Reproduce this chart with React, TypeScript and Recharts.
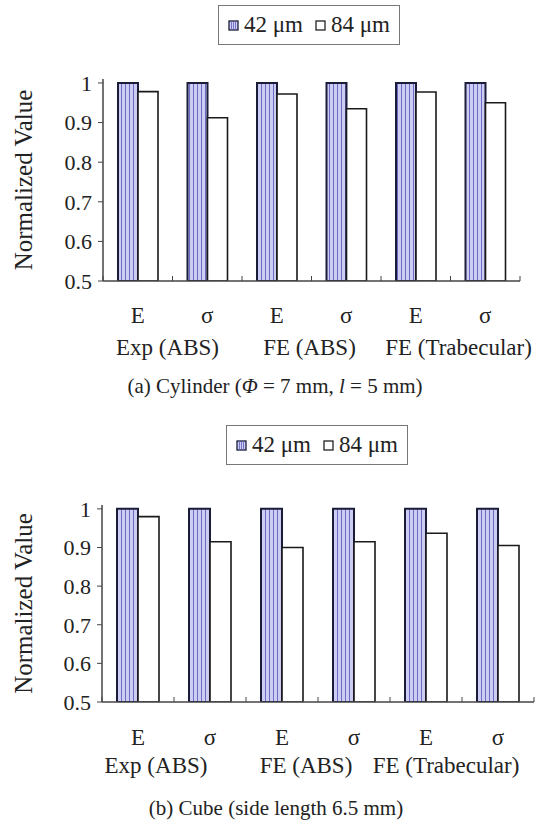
import React from "react";
import { BarChart, Bar, XAxis, YAxis } from "recharts";

const categories = ["E", "σ", "E", "σ", "E", "σ"];
const groups = ["Exp (ABS)", "FE (ABS)", "FE (Trabecular)"];
const seriesNames = ["42 μm", "84 μm"];
const cylinder42 = [1, 1, 1, 1, 1, 1];
const cylinder84 = [0.978, 0.912, 0.972, 0.935, 0.977, 0.95];
const cube42 = [1, 1, 1, 1, 1, 1];
const cube84 = [0.98, 0.915, 0.9, 0.915, 0.937, 0.905];
const yTicks = [0.5, 0.6, 0.7, 0.8, 0.9, 1];

const FONT = '"Liberation Serif", "Times New Roman", serif';
const STRIPE_FILL = "#cdcdf3";
const STRIPE_LINE = "#6c6cc4";
const BAR_EDGE = "#1b1b3a";

function buildRows(fine: number[], coarse: number[]) {
  return categories.map((c, i) => ({
    id: String(i),
    cat: c,
    a: fine[i],
    b: coarse[i],
  }));
}

function makeTick(band: number, groupDx: number[], catDy: number, groupDy: number) {
  return function CatTick(props: any) {
    const { x, y, payload } = props;
    const i = payload.index;
    const left = x - band / 2;
    return (
      <g>
        <line x1={left} y1={y} x2={left} y2={y - 5} stroke="#444" strokeWidth={1} />
        {i === categories.length - 1 && (
          <line x1={x + band / 2} y1={y} x2={x + band / 2} y2={y - 5} stroke="#444" strokeWidth={1} />
        )}
        <text x={x} y={y + catDy} textAnchor="middle" fontSize={23} fontFamily={FONT} fill="#222">
          {categories[i]}
        </text>
        {i % 2 === 0 && (
          <text
            x={x + band / 2 + groupDx[i / 2]}
            y={y + groupDy}
            textAnchor="middle"
            fontSize={23}
            fontFamily={FONT}
            fill="#222"
          >
            {groups[i / 2]}
          </text>
        )}
      </g>
    );
  };
}

function Swatch({ striped }: { striped: boolean }) {
  return (
    <svg width={11} height={11} style={{ marginRight: 5 }}>
      <rect x={1} y={1} width={9} height={9} fill={striped ? STRIPE_FILL : "#fff"} stroke={striped ? BAR_EDGE : "#222"} strokeWidth={1.3} />
      {striped &&
        [3.5, 5.5, 7.5].map((lx) => (
          <line key={lx} x1={lx} y1={1.5} x2={lx} y2={9.5} stroke={STRIPE_LINE} strokeWidth={0.9} />
        ))}
    </svg>
  );
}

function LegendBox({ left, top }: { left: number; top: number }) {
  return (
    <div
      style={{
        position: "absolute",
        left,
        top,
        width: 182,
        height: 40,
        border: "1px solid #777",
        boxSizing: "border-box",
        display: "flex",
        alignItems: "center",
        justifyContent: "center",
        fontFamily: FONT,
        fontSize: 23,
        color: "#222",
        background: "#fff",
      }}
    >
      <Swatch striped />
      <span style={{ marginRight: 12 }}>{seriesNames[0]}</span>
      <Swatch striped={false} />
      <span>{seriesNames[1]}</span>
    </div>
  );
}

interface PanelProps {
  rows: any[];
  top: number;
  height: number;
  plotTop: number;
  plotBottom: number;
  plotLeft: number;
  plotRight: number;
  barSize: number;
  groupDx: number[];
  catDy: number;
  groupDy: number;
  legendLeft: number;
  legendTop: number;
  caption: React.ReactNode;
  captionTop: number;
  captionCenter: number;
  patternId: string;
}

function Panel(p: PanelProps) {
  const width = 540;
  const band = (p.plotRight - p.plotLeft) / categories.length;
  const Tick = makeTick(band, p.groupDx, p.catDy, p.groupDy);
  const axisTitle = (props: any) => {
    const vb = props.viewBox || { y: p.plotTop, height: p.plotBottom - p.plotTop };
    const cx = 23;
    const cy = vb.y + vb.height / 2;
    return (
      <text
        x={cx}
        y={cy}
        transform={`rotate(-90, ${cx}, ${cy})`}
        textAnchor="middle"
        dominantBaseline="central"
        fontSize={25}
        fontFamily={FONT}
        fill="#222"
      >
        Normalized Value
      </text>
    );
  };
  return (
    <div style={{ position: "absolute", left: 0, top: p.top, width, height: p.height }}>
      <BarChart
        width={width}
        height={p.height}
        data={p.rows}
        barGap={0}
        margin={{ top: p.plotTop, right: width - p.plotRight, bottom: 0, left: 0 }}
      >
        <defs>
          <pattern id={p.patternId} width={4} height={10} patternUnits="userSpaceOnUse">
            <rect width={4} height={10} fill={STRIPE_FILL} />
            <line x1={1.5} y1={0} x2={1.5} y2={10} stroke={STRIPE_LINE} strokeWidth={1} />
          </pattern>
        </defs>
        <XAxis
          dataKey="id"
          height={p.height - p.plotBottom}
          axisLine={{ stroke: "#444", strokeWidth: 1.5 }}
          tickLine={false}
          tickSize={0}
          tickMargin={0}
          interval={0}
          tick={<Tick />}
        />
        <XAxis xAxisId="top" dataKey="id" orientation="top" height={0} tick={false} tickLine={false} axisLine={{ stroke: "#9a9a9a", strokeWidth: 1.5 }} />
        <YAxis
          width={p.plotLeft}
          domain={[0.5, 1.01]}
          ticks={yTicks}
          allowDataOverflow
          tickFormatter={(v: number) => String(v)}
          tickSize={5}
          tickMargin={6}
          tickLine={{ stroke: "#444" }}
          axisLine={{ stroke: "#444", strokeWidth: 1.5 }}
          tick={{ fontSize: 22, fontFamily: FONT, fill: "#222" }}
          label={{ content: axisTitle }}
        />
        <YAxis yAxisId="right" orientation="right" width={0} domain={[0.5, 1.01]} tick={false} tickLine={false} axisLine={{ stroke: "#9a9a9a", strokeWidth: 1.5 }} />
        <Bar dataKey="a" name={seriesNames[0]} barSize={p.barSize} fill={`url(#${p.patternId})`} stroke={BAR_EDGE} strokeWidth={2} isAnimationActive={false} />
        <Bar dataKey="b" name={seriesNames[1]} barSize={p.barSize} fill="#fff" stroke="#1a1a1a" strokeWidth={1.6} isAnimationActive={false} />
      </BarChart>
      <LegendBox left={p.legendLeft} top={p.legendTop} />
      <div
        style={{
          position: "absolute",
          left: p.captionCenter - 200,
          width: 400,
          top: p.captionTop,
          textAlign: "center",
          fontFamily: FONT,
          fontSize: 21,
          color: "#222",
          whiteSpace: "nowrap",
        }}
      >
        {p.caption}
      </div>
    </div>
  );
}

export default function App() {
  return (
    <div style={{ position: "absolute", left: 0, top: 0, width: 540, height: 821, background: "#fff", overflow: "hidden" }}>
      <Panel
        rows={buildRows(cylinder42, cylinder84)}
        top={0}
        height={400}
        plotTop={79}
        plotBottom={281}
        plotLeft={103}
        plotRight={520}
        barSize={20}
        groupDx={[-5, -2, 8]}
        catDy={42}
        groupDy={74}
        legendLeft={218}
        legendTop={5}
        caption={
          <span>
            (a) Cylinder (<i>Φ</i> = 7 mm, <i>l</i> = 5 mm)
          </span>
        }
        captionTop={374}
        captionCenter={275}
        patternId="stripesA"
      />
      <Panel
        rows={buildRows(cube42, cube84)}
        top={420}
        height={401}
        plotTop={85}
        plotBottom={282}
        plotLeft={102}
        plotRight={534}
        barSize={21}
        groupDx={[-18, -12, -16]}
        catDy={43}
        groupDy={71}
        legendLeft={226}
        legendTop={5}
        caption={<span>(b) Cube (side length 6.5 mm)</span>}
        captionTop={376}
        captionCenter={276}
        patternId="stripesB"
      />
    </div>
  );
}
